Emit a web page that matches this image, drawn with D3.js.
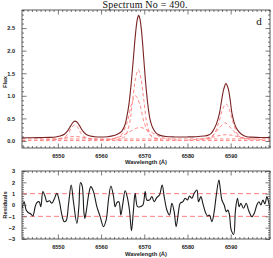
<!DOCTYPE html>
<html>
<head>
<meta charset="utf-8">
<script src="https://cdn.jsdelivr.net/npm/d3@7"></script>
<style>
  body { margin: 0; background: #fff; }
  svg { display: block; }
  .tick text { font-family: "Liberation Sans", Arial, sans-serif; font-weight: bold; font-size: 5.6px; fill: #222; }
  .tick line { stroke: #444; stroke-width: 0.7; }
  .domain { display: none; }
</style>
</head>
<body>
<svg width="273" height="258"></svg>
<script>
// ---- data ----
const waveDomain = [6541.7, 6599.1];
const fluxDomain = [-0.155, 2.9];
const resDomain = [-3, 3];

const waveTicks = [6550, 6560, 6570, 6580, 6590];
const fluxTicks = [0, 0.5, 1, 1.5, 2, 2.5];
const resTicks = [-3, -2, -1, 0, 1, 2, 3];

// total fitted profile [wavelength, flux]
const totalFlux = [
  [6541.7, 0.07], [6544, 0.072], [6546, 0.075], [6548, 0.08], [6549.5, 0.09],
  [6550.5, 0.11], [6551.5, 0.15], [6552.3, 0.23], [6553, 0.34], [6553.5, 0.41],
  [6553.9, 0.44], [6554.4, 0.42], [6555, 0.34], [6555.7, 0.23], [6556.5, 0.15],
  [6557.5, 0.11], [6558.5, 0.095], [6560, 0.09], [6561.5, 0.095], [6563, 0.12],
  [6564, 0.16], [6564.8, 0.22], [6565.5, 0.35], [6566, 0.55], [6566.5, 0.85],
  [6567, 1.3], [6567.5, 1.85], [6568, 2.4], [6568.4, 2.7], [6568.7, 2.78],
  [6569, 2.7], [6569.4, 2.4], [6569.9, 1.8], [6570.4, 1.2], [6570.9, 0.75],
  [6571.4, 0.45], [6572, 0.28], [6572.7, 0.18], [6573.5, 0.13], [6575, 0.1],
  [6577, 0.09], [6580, 0.09], [6582, 0.095], [6583.8, 0.11], [6584.8, 0.13],
  [6585.5, 0.17], [6586, 0.24], [6586.7, 0.38], [6587.4, 0.61], [6587.9, 0.9],
  [6588.4, 1.15], [6588.9, 1.27], [6589.4, 1.17], [6589.9, 0.9], [6590.3, 0.61],
  [6590.9, 0.38], [6591.6, 0.24], [6592.5, 0.15], [6593.7, 0.095], [6595, 0.085],
  [6597, 0.078], [6599.1, 0.075]
];

// individual fit components (dashed)
const compCont1 = [[6541.7, 0.045], [6599.1, 0.045]];
const compCont2 = [[6541.7, 0.01], [6599.1, 0.01]];
const compA = [
  [6549, 0.03], [6551, 0.06], [6552.3, 0.15], [6553.2, 0.3], [6553.9, 0.36],
  [6554.6, 0.3], [6555.5, 0.15], [6556.8, 0.06], [6559, 0.03]
];
const compA2 = [[6546, 0.02], [6550, 0.05], [6553.9, 0.1], [6558, 0.05], [6562, 0.02]];
const compB1 = [
  [6563.5, 0.02], [6565.5, 0.1], [6566.5, 0.35], [6567.3, 0.9], [6568, 1.4],
  [6568.6, 1.58], [6569.2, 1.4], [6569.9, 0.9], [6570.7, 0.35], [6571.7, 0.1], [6573.7, 0.02]
];
const compB2 = [
  [6562, 0.03], [6564.5, 0.12], [6566, 0.4], [6567, 0.8], [6568, 1.0],
  [6569, 0.8], [6570, 0.4], [6571.5, 0.12], [6574, 0.03]
];
const compB3 = [
  [6560, 0.02], [6564, 0.08], [6566.5, 0.2], [6569, 0.3], [6571.5, 0.2], [6574, 0.08], [6578, 0.02]
];
const compC1 = [
  [6584.5, 0.03], [6586, 0.12], [6587.2, 0.4], [6588.2, 0.72], [6588.9, 0.82],
  [6589.6, 0.72], [6590.6, 0.4], [6591.8, 0.12], [6593.3, 0.03]
];
const compC2 = [
  [6583, 0.03], [6585.5, 0.1], [6587.3, 0.28], [6588.7, 0.4], [6590.1, 0.28], [6592, 0.1], [6594.5, 0.03]
];
const compC3 = [[6580, 0.02], [6585, 0.07], [6589, 0.14], [6593, 0.07], [6598, 0.02]];
const components = [compCont1, compCont2, compA, compA2, compB1, compB2, compB3, compC1, compC2, compC3];

// residuals [wavelength, value]
const residuals = [
  [6541.74, -0.3], [6542.2, 0.29], [6542.66, -0.44], [6543.19, -0.68], [6543.75, -0.79],
  [6544.21, -0.97], [6544.75, -0.15], [6545.14, 0.2], [6545.67, 0.29], [6546.06, -0.15],
  [6546.53, 1.18], [6547.06, 0.74], [6547.45, 0.29], [6548.06, 0.38], [6548.61, 0.15],
  [6549.14, 0.5], [6549.77, 1.03], [6550.37, 0.29], [6550.93, -0.88], [6551.46, -1.47],
  [6551.92, -1.38], [6552.45, 0], [6553.08, 1.77], [6553.61, 0.29], [6554.4, -1.62],
  [6554.86, -0.15], [6555.23, 1.97], [6555.63, 1.68], [6556.02, -0.59], [6556.25, -1.18],
  [6556.62, -0.44], [6557.18, 1.03], [6557.64, 1.62], [6558.24, 1.18], [6559.03, -0.15],
  [6559.79, -1.03], [6560.56, -1.91], [6561.18, -1.32], [6561.71, 0.44], [6562.27, 1.68],
  [6562.87, 0.79], [6563.26, -0.15], [6563.66, 0.2], [6564.12, 0.29], [6564.58, -0.88],
  [6565.05, 0.15], [6565.58, 1.26], [6566.04, 0.74], [6566.57, -0.44], [6567.04, -2.27],
  [6567.5, -0.44], [6567.89, 1.03], [6568.43, -0.15], [6569.05, -0.15], [6569.68, 0],
  [6570.21, 1.18], [6570.6, 0.44], [6571.2, 0.44], [6571.76, 0.74], [6572.29, 0.29],
  [6572.92, 0.67], [6573.52, 0.88], [6574.14, 1.77], [6574.61, 0.74], [6575.23, -0.44],
  [6575.83, -0.88], [6576.39, 0.15], [6576.92, -0.59], [6577.38, -1.91], [6577.92, -0.59],
  [6578.31, 0.15], [6578.94, 0.29], [6579.47, 0.59], [6580.0, 0.44], [6580.46, 0.79],
  [6581.02, 0.59], [6581.55, 1.03], [6582.18, 1.32], [6582.55, 0.29], [6583.1, 0.74],
  [6583.56, 0.15], [6584.1, -0.59], [6584.63, -0.97], [6585.09, -0.88], [6585.65, -1.47],
  [6586.18, -0.59], [6586.64, 0.79], [6587.27, 2.2], [6587.57, 1.5], [6587.96, 0.44],
  [6588.5, 0], [6588.96, -0.59], [6589.35, -0.44], [6589.72, -0.88], [6590.12, -2.2],
  [6590.69, -2.6], [6591.11, -0.44], [6591.57, 0.59], [6591.97, -0.15], [6592.36, 0.15],
  [6592.96, -0.29], [6593.59, 0.15], [6594.12, -0.44], [6594.91, -1.03], [6595.44, -0.74],
  [6596.06, 0], [6596.53, 0.29], [6596.99, 0], [6597.45, 0.44], [6597.92, 0.1],
  [6598.38, 0.74], [6598.75, 0.29], [6599.14, -0.44]
];
const resLimits = [-1, 1];

// ---- layout ----
const svg = d3.select("svg");
const left = 22, right = 270;
const top1 = 10, bot1 = 148;
const top2 = 171, bot2 = 239;

const x = d3.scaleLinear().domain(waveDomain).range([left, right]);
const yFlux = d3.scaleLinear().domain(fluxDomain).range([bot1, top1]);
const yRes = d3.scaleLinear().domain(resDomain).range([bot2, top2]);

const minorWave = d3.range(6542, 6600, 1).filter((d) => d % 10 !== 0);
const minorFlux = d3.range(-0.1, 2.91, 0.1).map((d) => +d.toFixed(1)).filter((d) => Math.abs(d * 2 - Math.round(d * 2)) > 0.01);
const minorRes = d3.range(-2.8, 3, 0.2).map((d) => +d.toFixed(1)).filter((d) => Math.abs(d - Math.round(d)) > 0.01);

// clip paths
const defs = svg.append("defs");
defs.append("clipPath").attr("id", "clip1").append("rect")
  .attr("x", left).attr("y", top1).attr("width", right - left).attr("height", bot1 - top1);
defs.append("clipPath").attr("id", "clip2").append("rect")
  .attr("x", left).attr("y", top2).attr("width", right - left).attr("height", bot2 - top2);

// draws frame + inward ticks for a panel
const drawAxes = (y, yt, yMinor, top, bot, yFmt) => {
  const g = svg.append("g");
  g.append("g").attr("transform", `translate(0,${bot})`)
    .call(d3.axisBottom(x).tickValues(waveTicks).tickSize(-4.5).tickPadding(6.5).tickFormat(d3.format("d")));
  g.append("g").attr("transform", `translate(0,${bot})`)
    .call(d3.axisBottom(x).tickValues(minorWave).tickSize(-2).tickFormat(""));
  g.append("g").attr("transform", `translate(0,${top})`)
    .call(d3.axisTop(x).tickValues(waveTicks).tickSize(-4.5).tickFormat(""));
  g.append("g").attr("transform", `translate(0,${top})`)
    .call(d3.axisTop(x).tickValues(minorWave).tickSize(-2).tickFormat(""));
  g.append("g").attr("transform", `translate(${left},0)`)
    .call(d3.axisLeft(y).tickValues(yt).tickSize(-4.5).tickPadding(7).tickFormat(yFmt));
  g.append("g").attr("transform", `translate(${left},0)`)
    .call(d3.axisLeft(y).tickValues(yMinor).tickSize(-2).tickFormat(""));
  g.append("g").attr("transform", `translate(${right},0)`)
    .call(d3.axisRight(y).tickValues(yt).tickSize(-4.5).tickFormat(""));
  g.append("g").attr("transform", `translate(${right},0)`)
    .call(d3.axisRight(y).tickValues(yMinor).tickSize(-2).tickFormat(""));
  g.append("rect")
    .attr("x", left).attr("y", top).attr("width", right - left).attr("height", bot - top)
    .attr("fill", "none").attr("stroke", "#333").attr("stroke-width", 0.8);
};

// ---- top panel ----
const lineF = d3.line().x((d) => x(d[0])).y((d) => yFlux(d[1])).curve(d3.curveCatmullRom);

svg.append("g").attr("clip-path", "url(#clip1)")
  .selectAll("path.comp")
  .data(components)
  .enter().append("path")
    .attr("class", "comp")
    .attr("d", lineF)
    .attr("fill", "none")
    .attr("stroke", "#ff7a7a")
    .attr("stroke-width", 0.9)
    .attr("stroke-dasharray", "3.5,2.5");

svg.append("path")
  .datum(totalFlux)
  .attr("clip-path", "url(#clip1)")
  .attr("d", lineF)
  .attr("fill", "none")
  .attr("stroke", "#7a2323")
  .attr("stroke-width", 1.1);

drawAxes(yFlux, fluxTicks, minorFlux, top1, bot1, d3.format(".1f"));

// ---- bottom panel ----
const lineR = d3.line().x((d) => x(d[0])).y((d) => yRes(d[1])).curve(d3.curveCatmullRom);

svg.append("g")
  .selectAll("line.lim")
  .data(resLimits)
  .enter().append("line")
    .attr("class", "lim")
    .attr("x1", left).attr("x2", right)
    .attr("y1", (d) => yRes(d)).attr("y2", (d) => yRes(d))
    .attr("stroke", "#ff6f6f")
    .attr("stroke-width", 0.9)
    .attr("stroke-dasharray", "5,3");

svg.append("path")
  .datum(residuals)
  .attr("clip-path", "url(#clip2)")
  .attr("d", lineR)
  .attr("fill", "none")
  .attr("stroke", "#1a1a1a")
  .attr("stroke-width", 1.1);

drawAxes(yRes, resTicks, minorRes, top2, bot2, d3.format("d"));

// ---- labels ----
svg.append("text")
  .attr("x", (left + right) / 2 - 1).attr("y", 8)
  .attr("text-anchor", "middle")
  .attr("font-family", "Liberation Serif, serif")
  .attr("font-size", 10)
  .attr("textLength", 85).attr("lengthAdjust", "spacing")
  .attr("fill", "#111")
  .text("Spectrum No = 490.");

svg.append("text")
  .attr("x", 259).attr("y", 25)
  .attr("text-anchor", "middle")
  .attr("font-family", "Liberation Serif, serif")
  .attr("font-size", 11)
  .attr("fill", "#111")
  .text("d");

const axisLabel = (txt, xx, yy, rot) => svg.append("text")
  .attr("transform", `translate(${xx},${yy}) rotate(${rot})`)
  .attr("text-anchor", "middle")
  .attr("font-family", "Liberation Sans, Arial, sans-serif")
  .attr("font-weight", "bold")
  .attr("font-size", 5.8)
  .attr("fill", "#222")
  .text(txt);

axisLabel("Wavelength (Å)", (left + right) / 2, 164, 0);
axisLabel("Wavelength (Å)", (left + right) / 2, 256, 0);
axisLabel("Flux", 7, 82, -90);
axisLabel("Residuals", 7, 205, -90);
</script>
</body>
</html>
